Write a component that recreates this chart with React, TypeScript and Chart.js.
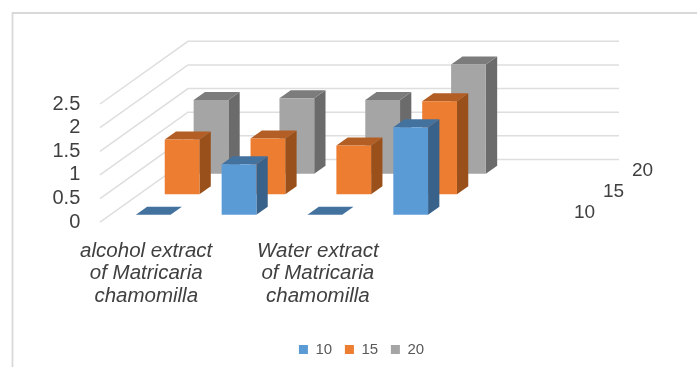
import React, { useEffect, useRef } from "react";
import { BarController, Chart, registerables } from "chart.js";

Chart.register(...registerables);

const FONT = "'Liberation Sans', Arial, sans-serif";

const categories: (string | string[])[] = [
  ["alcohol extract", "of Matricaria", "chamomilla"],
  "",
  ["Water extract", "of Matricaria", "chamomilla"],
  "",
];
const seriesNames = ["10", "15", "20"];
const series10 = [0, 1.07, 0, 1.85];
const series15 = [1.16, 1.18, 1.03, 1.97];
const series20 = [1.56, 1.6, 1.56, 2.31];
const yTicks = [0, 0.5, 1, 1.5, 2, 2.5];

const frontColors = ["#5B9BD5", "#ED7D31", "#A5A5A5"];
const topColors = ["#44729F", "#B25E24", "#7C7C7C"];
const sideColors = ["#39628A", "#9A501B", "#6B6B6B"];

// Oblique projection of the floor: how far each series row and each box recede.
const ROW_START_X = 7;
const ROW_START_Y = -7.4;
const ROW_STEP_X = 28.9;
const ROW_STEP_Y = -20.5;
const BOX_DEPTH_X = 11.3;
const BOX_DEPTH_Y = -8;

// Walls of the plot, relative to the category scale and the value scale.
const WALL_INSET = 3.3;
const WALL_DEPTH_X = 88;
const WALL_DEPTH_Y = -62.7;
const BACK_WALL_END = 172.4;

function polygon(ctx: CanvasRenderingContext2D, color: string, pts: number[][]) {
  ctx.fillStyle = color;
  ctx.beginPath();
  pts.forEach(([x, y], i) => (i ? ctx.lineTo(x, y) : ctx.moveTo(x, y)));
  ctx.closePath();
  ctx.fill();
}

// Bar controller that paints each element as a box, shifted back along its series row.
class Bar3DController extends BarController {
  static id = "bar3d";
  static defaults = BarController.defaults;
  static overrides = BarController.overrides;

  draw() {
    const ctx: CanvasRenderingContext2D = this.chart.ctx;
    const row = this.index;
    const shiftX = ROW_START_X + row * ROW_STEP_X;
    const shiftY = ROW_START_Y + row * ROW_STEP_Y;
    ctx.save();
    for (const el of this._cachedMeta.data as any[]) {
      const x0 = el.x - el.width / 2 + shiftX;
      const x1 = el.x + el.width / 2 + shiftX;
      const top = el.y + shiftY;
      const bottom = el.base + shiftY;
      const dx = BOX_DEPTH_X;
      const dy = BOX_DEPTH_Y;
      polygon(ctx, sideColors[row], [
        [x1, top],
        [x1 + dx, top + dy],
        [x1 + dx, bottom + dy],
        [x1, bottom],
      ]);
      polygon(ctx, topColors[row], [
        [x0, top],
        [x0 + dx, top + dy],
        [x1 + dx, top + dy],
        [x1, top],
      ]);
      if (bottom - top > 0.5) {
        polygon(ctx, frontColors[row], [
          [x0, top],
          [x1, top],
          [x1, bottom],
          [x0, bottom],
        ]);
      }
    }
    ctx.restore();
  }
}
Chart.register(Bar3DController as any);

// Side-wall and back-wall gridlines, running from each value tick.
const wallGrid = {
  id: "wallGrid",
  beforeDatasetsDraw(chart: any) {
    const { ctx, scales } = chart;
    const xLeft = scales.x.left - WALL_INSET;
    ctx.save();
    ctx.strokeStyle = "#DEDEDE";
    ctx.lineWidth = 1.5;
    for (const tick of scales.y.ticks) {
      const y = scales.y.getPixelForValue(tick.value);
      ctx.beginPath();
      ctx.moveTo(xLeft, y);
      ctx.lineTo(xLeft + WALL_DEPTH_X, y + WALL_DEPTH_Y);
      ctx.lineTo(scales.x.right + BACK_WALL_END, y + WALL_DEPTH_Y);
      ctx.stroke();
    }
    ctx.restore();
  },
};

// Series names along the right-hand edge of the floor, one per row.
const rowLabels = {
  id: "rowLabels",
  afterDatasetsDraw(chart: any) {
    const { ctx, scales } = chart;
    ctx.save();
    ctx.font = `19px ${FONT}`;
    ctx.fillStyle = "#404040";
    ctx.textAlign = "center";
    ctx.textBaseline = "middle";
    seriesNames.forEach((name, row) => {
      ctx.fillText(
        name,
        scales.x.right + 138 + row * 29,
        scales.y.bottom - 9.7 + row * -21,
      );
    });
    ctx.restore();
  },
};

// Thin outline round the whole picture area.
const frame = {
  id: "frame",
  beforeDraw(chart: any) {
    const { ctx } = chart;
    ctx.save();
    ctx.strokeStyle = "#D9D9D9";
    ctx.lineWidth = 1.8;
    ctx.beginPath();
    ctx.moveTo(12.5, 367);
    ctx.lineTo(12.5, 13);
    ctx.lineTo(697, 13);
    ctx.stroke();
    ctx.restore();
  },
};

export default function App() {
  const ref = useRef<HTMLCanvasElement>(null);

  useEffect(() => {
    document.body.style.margin = "0";
    const values = [series10, series15, series20];
    const chart = new Chart(ref.current!, {
      type: "bar3d" as any,
      data: {
        labels: categories as any,
        datasets: seriesNames.map((label, i) => ({
          label,
          data: values[i],
          backgroundColor: frontColors[i],
          borderWidth: 0,
          grouped: false,
          clip: false,
          barPercentage: 0.405,
          categoryPercentage: 1,
        })) as any,
      },
      plugins: [frame, wallGrid, rowLabels],
      options: {
        responsive: false,
        animation: false,
        layout: { padding: { left: 26, top: 104, right: 0, bottom: 0 } },
        plugins: {
          title: { display: false },
          tooltip: { enabled: false },
          legend: {
            position: "bottom",
            labels: {
              boxWidth: 9,
              boxHeight: 9,
              padding: 12.8,
              color: "#595959",
              font: { family: FONT, size: 15 },
            },
          },
        },
        scales: {
          x: {
            grid: { display: false },
            border: { display: false },
            ticks: {
              autoSkip: false,
              maxRotation: 0,
              minRotation: 0,
              padding: 10,
              color: "#404040",
              font: { family: FONT, size: 20.5, style: "italic", lineHeight: 1.09 },
            },
            afterFit(scale: any) {
              scale.height = 107;
            },
          },
          y: {
            min: 0,
            max: 2.5,
            afterBuildTicks(scale: any) {
              scale.ticks = yTicks.map((value) => ({ value }));
            },
            grid: { display: false },
            border: { display: false },
            ticks: {
              autoSkip: false,
              padding: 15,
              color: "#404040",
              font: { family: FONT, size: 20 },
              callback: (v: any) => String(v),
            },
            afterFit(scale: any) {
              scale.width = 77.3;
            },
          },
          // Empty axis that reserves the room taken by the receding floor.
          floorRoom: {
            position: "right",
            display: true,
            grid: { display: false },
            border: { display: false },
            ticks: { display: false },
            afterFit(scale: any) {
              scale.width = 250.4;
            },
          },
        },
      } as any,
    });
    return () => chart.destroy();
  }, []);

  return (
    <div style={{ width: 697, height: 367 }}>
      <canvas ref={ref} width={697} height={367} style={{ display: "block" }} />
    </div>
  );
}
